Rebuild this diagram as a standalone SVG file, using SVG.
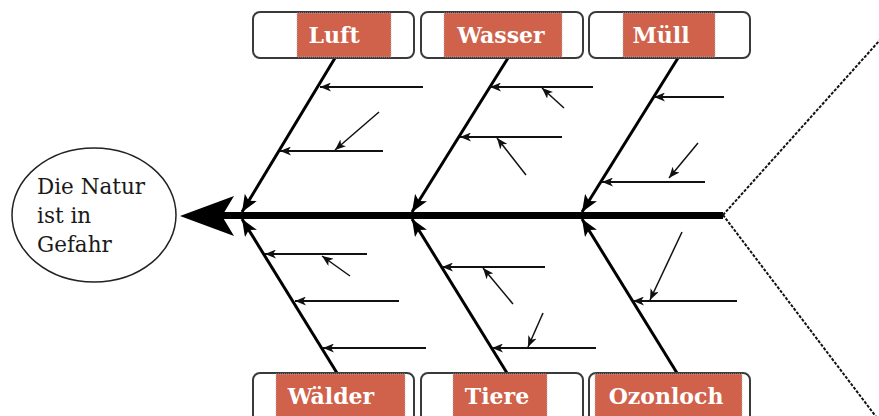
<svg xmlns="http://www.w3.org/2000/svg" width="879" height="416" viewBox="0 0 879 416">
<style>
.box{fill:#fff;stroke:#3a3a3a;stroke-width:2}
.lab{fill:#D0614A;stroke:#b8b8b8;stroke-width:0.8;stroke-dasharray:1 1}
.lt{font-family:"DejaVu Serif","Liberation Serif",serif;font-weight:bold;font-size:22px;fill:#fff;text-anchor:middle}
.et{font-family:"DejaVu Serif","Liberation Serif",serif;font-size:21.5px;fill:#1a1a1a}
.bone{stroke:#000;stroke-width:3;fill:none;marker-end:url(#big)}
.sub{stroke:#111;stroke-width:2;fill:none;marker-end:url(#small)}
.dg{stroke:#111;stroke-width:1.5;fill:none;marker-end:url(#small)}
.dash{stroke:#111;stroke-width:2;stroke-dasharray:3 1.5;fill:none}
</style>
<defs>
<marker id="big" markerUnits="userSpaceOnUse" markerWidth="17" markerHeight="14" refX="17" refY="7" orient="auto">
<path d="M0,0 L17,7 L0,14 L4,7 z" fill="#000"/>
</marker>
<marker id="small" markerUnits="userSpaceOnUse" markerWidth="11" markerHeight="9" refX="11" refY="4.5" orient="auto">
<path d="M0,0 L11,4.5 L0,9 L3,4.5 z" fill="#111"/>
</marker>
</defs>
<rect width="879" height="416" fill="#fff"/>

<g id="effect">
<ellipse cx="94" cy="215" rx="82" ry="67" fill="#fff" stroke="#222" stroke-width="1.5"/>
<text class="et" x="37" y="194">Die Natur</text>
<text class="et" x="37" y="223">ist in</text>
<text class="et" x="37" y="252">Gefahr</text>
</g>

<g id="connectors">
<line x1="222" y1="215.5" x2="723" y2="215.5" stroke="#000" stroke-width="7"/>
<path d="M180,216 L234,196 L222,216 L234,236 z" fill="#000"/>
<line class="dash" x1="723" y1="215" x2="880" y2="40"/>
<line class="dash" x1="723" y1="215" x2="877" y2="418"/>

<line class="bone" x1="335" y1="58" x2="242" y2="212"/>
<line class="bone" x1="508" y1="58" x2="412" y2="212"/>
<line class="bone" x1="678" y1="58" x2="582" y2="212"/>
<line class="bone" x1="337" y1="373" x2="242" y2="219"/>
<line class="bone" x1="507" y1="373" x2="412" y2="219"/>
<line class="bone" x1="677" y1="373" x2="582" y2="219"/>

<line class="sub" x1="423" y1="87" x2="320" y2="87"/>
<line class="sub" x1="383" y1="151" x2="280" y2="151"/>
<line class="dg" x1="379" y1="112" x2="335" y2="150"/>
<line class="sub" x1="593" y1="87" x2="490" y2="87"/>
<line class="dg" x1="564" y1="108" x2="542" y2="88"/>
<line class="sub" x1="562" y1="137" x2="460" y2="137"/>
<line class="dg" x1="526" y1="175" x2="497" y2="138"/>
<line class="sub" x1="724" y1="97" x2="654" y2="97"/>
<line class="dg" x1="698" y1="143" x2="669" y2="178"/>
<line class="sub" x1="705" y1="182" x2="602" y2="182"/>

<line class="sub" x1="367" y1="254" x2="265" y2="254"/>
<line class="dg" x1="350" y1="276" x2="322" y2="256"/>
<line class="sub" x1="399" y1="301" x2="295" y2="301"/>
<line class="sub" x1="426" y1="348" x2="323" y2="348"/>
<line class="sub" x1="545" y1="267" x2="442" y2="267"/>
<line class="dg" x1="513" y1="304" x2="483" y2="268"/>
<line class="sub" x1="596" y1="348" x2="492" y2="348"/>
<line class="dg" x1="543" y1="313" x2="528" y2="347"/>
<line class="sub" x1="737" y1="301" x2="633" y2="301"/>
<line class="dg" x1="682" y1="232" x2="650" y2="300"/>
</g>

<g id="luft">
<rect class="box" x="253" y="12" width="161" height="46" rx="7"/>
<rect class="lab" x="297" y="13" width="94" height="44"/>
<text class="lt" x="334" y="43">Luft</text>
</g>
<g id="wasser">
<rect class="box" x="421" y="12" width="162" height="46" rx="7"/>
<rect class="lab" x="444" y="13" width="118" height="44"/>
<text class="lt" x="501" y="43">Wasser</text>
</g>
<g id="muell">
<rect class="box" x="589" y="12" width="161" height="46" rx="7"/>
<rect class="lab" x="623" y="13" width="92" height="44"/>
<text class="lt" x="661" y="43">Müll</text>
</g>
<g id="waelder">
<rect class="box" x="253" y="373" width="161" height="50" rx="7"/>
<rect class="lab" x="276" y="374" width="129" height="44"/>
<text class="lt" x="331" y="404">Wälder</text>
</g>
<g id="tiere">
<rect class="box" x="421" y="373" width="162" height="50" rx="7"/>
<rect class="lab" x="453" y="374" width="94" height="44"/>
<text class="lt" x="497" y="404">Tiere</text>
</g>
<g id="ozonloch">
<rect class="box" x="589" y="373" width="161" height="50" rx="7"/>
<rect class="lab" x="595" y="374" width="147" height="44"/>
<text class="lt" x="666" y="404">Ozonloch</text>
</g>
</svg>
